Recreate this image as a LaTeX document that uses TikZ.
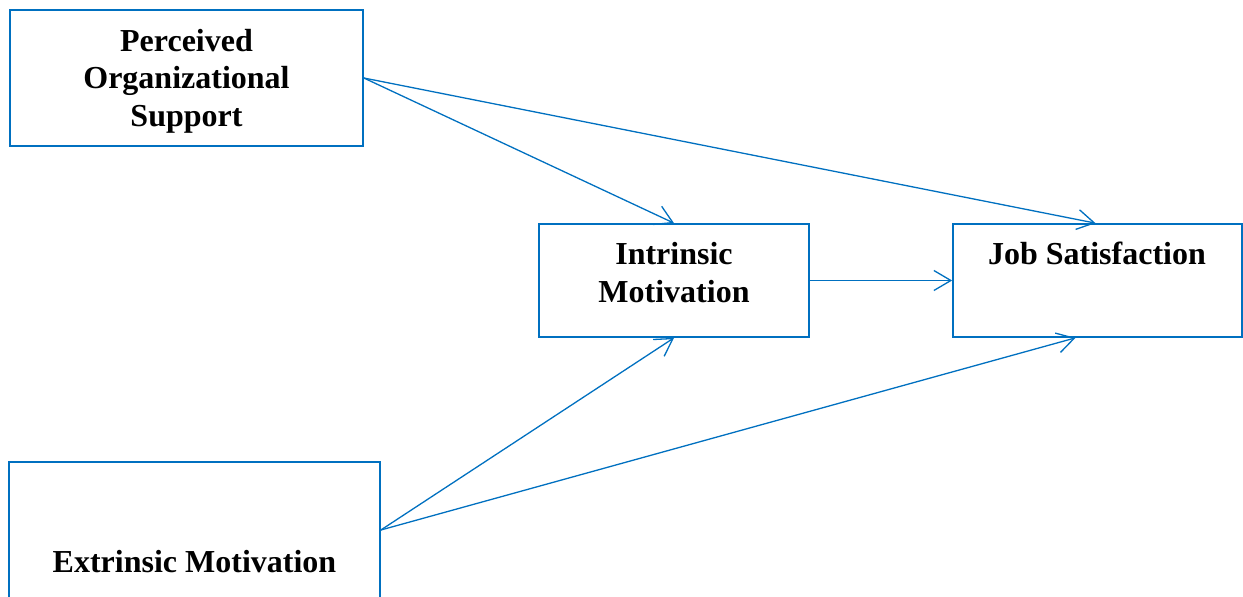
\documentclass[tikz,border=0pt]{standalone}
\usepackage{fontspec}
\setmainfont{Liberation Serif}
\usetikzlibrary{arrows.meta}
\definecolor{lineblue}{RGB}{0,112,192}
\begin{document}
\begin{tikzpicture}[x=1pt,y=-1pt,
  box/.style={draw=lineblue,line width=1.7pt,rectangle,inner sep=0pt,fill=white},
  lbl/.style={font=\fontsize{32}{37.5}\selectfont\bfseries,align=center,inner sep=0pt,text=black},
  conn/.style={draw=lineblue,line width=1.3pt,-{Straight Barb[length=17pt,width=20pt,line width=1.3pt]}}]
\useasboundingbox (0,0) rectangle (1243,597);
\node[box,minimum width=353pt,minimum height=136pt] (pos) at (186.5,78) {};
\node[box,minimum width=270pt,minimum height=113pt] (im) at (674,280.5) {};
\node[box,minimum width=289pt,minimum height=113pt] (js) at (1097.5,280.5) {};
\node[box,minimum width=371pt,minimum height=136pt] (em) at (194.5,530) {};
\node[lbl,anchor=base] (posl) at (186.5,126) {Perceived\\Organizational\\Support};
\node[lbl,anchor=base] (iml) at (674,302) {Intrinsic\\Motivation};
\node[lbl,anchor=base] (jsl) at (1097,264) {Job Satisfaction};
\node[lbl,anchor=base] (eml) at (194.5,572) {Extrinsic Motivation};
\draw[conn] (pos.east) -- (im.north);
\draw[conn] (pos.east) -- ([xshift=-2pt]js.north);
\draw[conn] (im.east) -- (js.west);
\draw[conn] (em.east) -- (im.south);
\draw[conn] (em.east) -- ([xshift=-22pt]js.south);
\end{tikzpicture}
\end{document}
